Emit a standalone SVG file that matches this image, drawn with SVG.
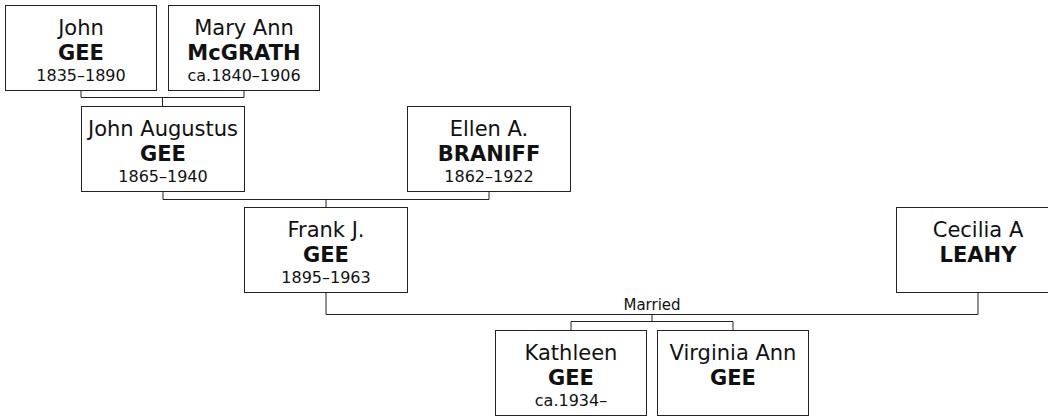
<svg xmlns="http://www.w3.org/2000/svg" width="1048" height="416" viewBox="0 0 1048 416">
<style>
.box{fill:#fff;stroke:#222;stroke-width:1}
.ln{fill:none;stroke:#222;stroke-width:1}
text{font-family:"DejaVu Sans",Verdana,sans-serif;fill:#111;text-anchor:middle}
.g{font-size:21px}
.s{font-size:21px;font-weight:bold}
.d{font-size:16px}
.m{font-size:15px}
</style>
<rect width="1048" height="416" fill="#fff"/>
<g id="connectors">
<path class="ln" d="M81,90.5V97.5H244V90.5M162.5,97.5V106.5"/>
<path class="ln" d="M163,191.5V199.5H489V191.5M326,199.5V207.5"/>
<path class="ln" d="M326,292.5V314.5H978V292.5M652,314.5V321.5M571,330.5V321.5H733V330.5"/>
<text class="m" x="652" y="310">Married</text>
</g>
<g id="john-gee">
<rect class="box" x="5.5" y="5.5" width="151" height="85"/>
<text class="g" x="81" y="34.5">John</text>
<text class="s" x="81" y="59.5">GEE</text>
<text class="d" x="81" y="81">1835–1890</text>
</g>
<g id="mary-ann-mcgrath">
<rect class="box" x="168.5" y="5.5" width="151" height="85"/>
<text class="g" x="244" y="34.5">Mary Ann</text>
<text class="s" x="244" y="59.5">McGRATH</text>
<text class="d" x="244" y="81">ca.1840–1906</text>
</g>
<g id="john-augustus-gee">
<rect class="box" x="81.5" y="106.5" width="163" height="85"/>
<text class="g" x="163" y="135.5">John Augustus</text>
<text class="s" x="163" y="160.5">GEE</text>
<text class="d" x="163" y="182">1865–1940</text>
</g>
<g id="ellen-braniff">
<rect class="box" x="407.5" y="106.5" width="163" height="85"/>
<text class="g" x="489" y="135.5">Ellen A.</text>
<text class="s" x="489" y="160.5">BRANIFF</text>
<text class="d" x="489" y="182">1862–1922</text>
</g>
<g id="frank-gee">
<rect class="box" x="244.5" y="207.5" width="163" height="85"/>
<text class="g" x="326" y="236.5">Frank J.</text>
<text class="s" x="326" y="262">GEE</text>
<text class="d" x="326" y="283">1895–1963</text>
</g>
<g id="cecilia-leahy">
<rect class="box" x="896.5" y="207.5" width="163" height="85"/>
<text class="g" x="978" y="236.5">Cecilia A</text>
<text class="s" x="978" y="262">LEAHY</text>
</g>
<g id="kathleen-gee">
<rect class="box" x="495.5" y="330.5" width="151" height="85"/>
<text class="g" x="571" y="359.5">Kathleen</text>
<text class="s" x="571" y="385">GEE</text>
<text class="d" x="571" y="406">ca.1934–</text>
</g>
<g id="virginia-ann-gee">
<rect class="box" x="657.5" y="330.5" width="151" height="85"/>
<text class="g" x="733" y="359.5">Virginia Ann</text>
<text class="s" x="733" y="385">GEE</text>
</g>
</svg>
